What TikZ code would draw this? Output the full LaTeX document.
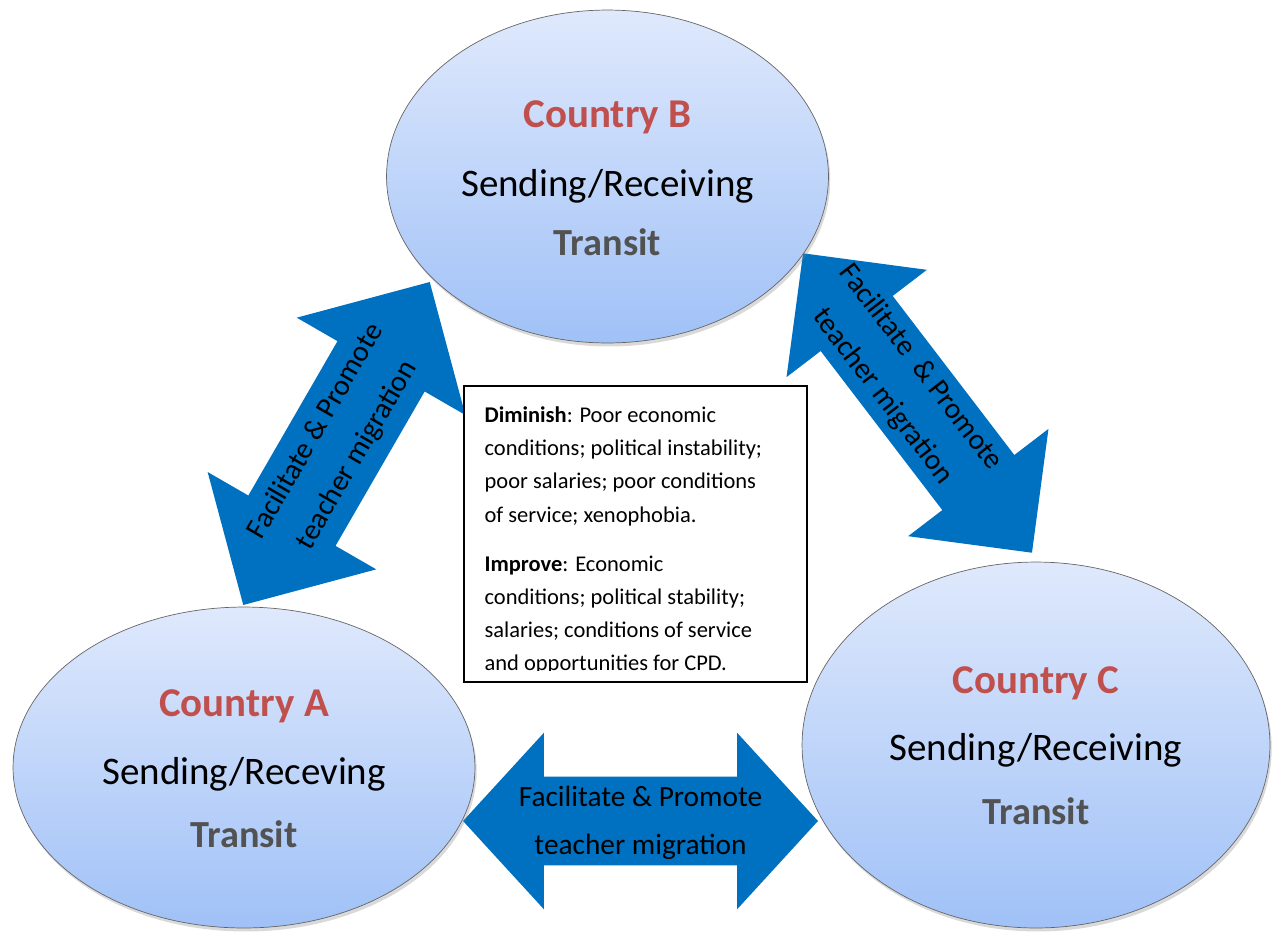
\documentclass[tikz,border=0pt]{standalone}
\usepackage{fontspec}
\setmainfont{Carlito}
\usepackage{tikz}
\usetikzlibrary{shapes.geometric, shapes.arrows, shadows, calc}

\definecolor{arrowblue}{RGB}{0,112,192}
\definecolor{countryred}{RGB}{192,80,77}
\definecolor{bubbletop}{RGB}{223,233,252}
\definecolor{bubblebottom}{RGB}{160,193,247}

\begin{document}
\begin{tikzpicture}[
            x = 0.02cm, y = -0.02cm, % one unit is one pixel, y goes down
            inner sep = 0pt
        ]

        \tikzstyle{countrybubble}=[
            ellipse,
            draw = black!60,
            thin,
            top color = bubbletop,
            bottom color = bubblebottom,
            drop shadow = {opacity = 0.3, shadow xshift = 1pt, shadow yshift = -2pt}
        ]
        \tikzstyle{countryname}=[anchor = base, text = countryred, font = \fontsize{23.3}{28}\selectfont\bfseries]
        \tikzstyle{countryrole}=[anchor = base, font = \fontsize{22.2}{26}\selectfont]
        \tikzstyle{transitlabel}=[anchor = base, text = black!68, font = \fontsize{21.8}{26}\selectfont\bfseries]
        \tikzstyle{flowarrow}=[
            double arrow,
            fill = arrowblue,
            inner xsep = 0pt,
            double arrow tip angle = 90
        ]
        \tikzstyle{flowlabel}=[align = center, font = \fontsize{16.7}{27}\selectfont]
        \tikzstyle{infobox}=[draw = black, line width = 0.9pt, fill = white, minimum width = 6.86cm, minimum height = 5.92cm]
        \tikzstyle{infotext}=[align = left, font = \fontsize{12.8}{18.9}\selectfont]

        \useasboundingbox (0, 0) rectangle (1274, 931);

        % double arrows first, the bubbles sit on top of their tips
        \node[flowarrow, rotate = 60, minimum height = 7.46cm, inner ysep = 1.0cm,
              double arrow head extend = 0.94cm] (AB) at (336.5, 443.5) {};
        \node[flowarrow, rotate = -52.6, minimum height = 7.54cm, inner ysep = 0.9cm,
              double arrow head extend = 0.86cm] (BC) at (917.5, 403) {};
        \node[flowarrow, minimum height = 7.1cm, inner ysep = 0.88cm,
              double arrow head extend = 0.88cm, double arrow tip angle = 95] (AC) at (640.5, 821) {};

        \node[flowlabel, rotate = 60] (ABtext) at (AB) {Facilitate \& Promote\\teacher migration};
        \node[flowlabel, rotate = -52.6] (BCtext) at ($(BC)+(-16,-21)$) {Facilitate~ \& Promote\\teacher migration};
        \node[flowlabel] (ACtext) at ($(AC)+(0,2)$) {Facilitate \& Promote\\teacher migration};

        % countries
        \node[countrybubble, minimum width = 8.84cm, minimum height = 6.66cm] (B) at (607.5, 176.5) {};
        \node[countrybubble, minimum width = 9.24cm, minimum height = 6.42cm] (A) at (244, 767.5) {};
        \node[countrybubble, minimum width = 9.36cm, minimum height = 7.32cm] (C) at (1036, 745) {};

        \node[countryname] (Bname) at ($(B)+(0,-49.5)$) {Country B};
        \node[countryrole] (Brole) at ($(B)+(0,19.5)$) {Sending/Receiving};
        \node[transitlabel] (Btransit) at ($(B)+(0,79)$) {Transit};

        \node[countryname] (Aname) at ($(A)+(0,-51)$) {Country A};
        \node[countryrole] (Arole) at ($(A)+(0,17)$) {Sending/Receving};
        \node[transitlabel] (Atransit) at ($(A)+(0,79.5)$) {Transit};

        \node[countryname] (Cname) at ($(C)+(0,-51.5)$) {Country C};
        \node[countryrole] (Crole) at ($(C)+(0,15.5)$) {Sending/Receiving};
        \node[transitlabel] (Ctransit) at ($(C)+(0,79)$) {Transit};

        % factors box, its last line is cut off
        \node[infobox] (info) at (635.5, 534) {};
        \begin{scope}
            \clip (info.north west) rectangle ($(info.south east)+(0,-12)$);
            \node[infotext, anchor = north west] (factors) at ($(info.north west)+(21,21)$) {%
                \textbf{Diminish}: Poor economic\\
                conditions; political instability;\\
                poor salaries; poor conditions\\
                of service; xenophobia.\\[9pt]
                \textbf{Improve}: Economic\\
                conditions; political stability;\\
                salaries; conditions of service\\
                and opportunities for CPD.};
        \end{scope}
    \end{tikzpicture}
\end{document}
